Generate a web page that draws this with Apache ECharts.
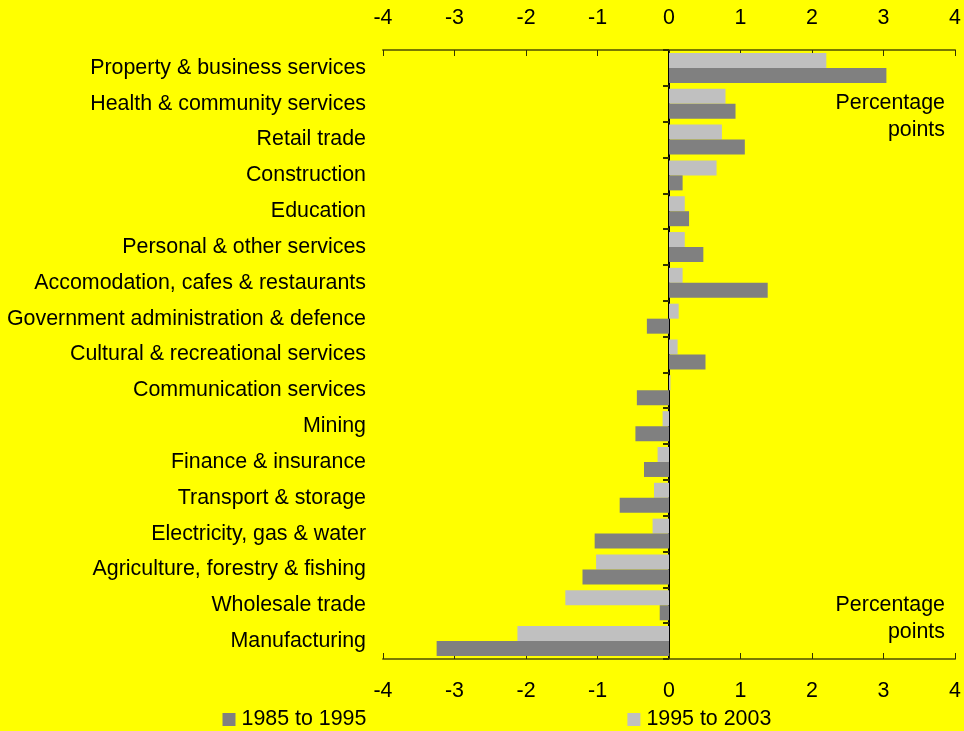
<!DOCTYPE html>
<html>
<head>
<meta charset="utf-8">
<script src="https://cdn.jsdelivr.net/npm/echarts@6/dist/echarts.min.js"></script>
<style>
html,body{margin:0;padding:0;background:#ffff00;}
#chart{width:964px;height:731px;}
</style>
</head>
<body>
<div id="chart"></div>
<script>
const categories = [
  "Property & business services",
  "Health & community services",
  "Retail trade",
  "Construction",
  "Education",
  "Personal & other services",
  "Accomodation, cafes & restaurants",
  "Government administration & defence",
  "Cultural & recreational services",
  "Communication services",
  "Mining",
  "Finance & insurance",
  "Transport & storage",
  "Electricity, gas & water",
  "Agriculture, forestry & fishing",
  "Wholesale trade",
  "Manufacturing"
];
const series1985to1995 = [3.04, 0.93, 1.06, 0.19, 0.28, 0.48, 1.38, -0.31, 0.51, -0.45, -0.47, -0.35, -0.69, -1.04, -1.21, -0.13, -3.25];
const series1995to2003 = [2.2, 0.79, 0.74, 0.665, 0.22, 0.22, 0.19, 0.135, 0.12, 0.02, -0.09, -0.16, -0.21, -0.23, -1.02, -1.45, -2.12];
const seriesNames = ["1985 to 1995", "1995 to 2003"];
const axisMin = -4, axisMax = 4, axisStep = 1;
const unitNote = "Percentage\npoints";

const FONT = "'Liberation Sans', Arial, sans-serif";
const FS = 21.4;
const chart = echarts.init(document.getElementById('chart'));

const xAxisCommon = {
  type: 'value', min: axisMin, max: axisMax, interval: axisStep,
  splitLine: {show: false},
  axisLine: {show: true, onZero: false, lineStyle: {color: '#7a7a00', width: 2}},
  axisTick: {show: true, inside: true, length: 6, lineStyle: {color: '#333300', width: 1}},
  axisLabel: {color: '#000', fontSize: FS, fontFamily: FONT}
};

chart.setOption({
  backgroundColor: '#ffff00',
  animation: false,
  grid: {left: 383, right: 8, top: 50, bottom: 72, containLabel: false},
  legend: {
    data: seriesNames,
    left: 222.5, top: 709, padding: 0,
    itemWidth: 13, itemHeight: 13, itemGap: 261,
    icon: 'rect',
    textStyle: {color: '#000', fontSize: FS, fontFamily: FONT, padding: [0,0,0,1]}
  },
  xAxis: [
    Object.assign({}, xAxisCommon, {position: 'top', axisLabel: Object.assign({}, xAxisCommon.axisLabel, {margin: 21})}),
    Object.assign({}, xAxisCommon, {position: 'bottom', axisLabel: Object.assign({}, xAxisCommon.axisLabel, {margin: 22})})
  ],
  yAxis: [
    {
      type: 'category', data: categories, inverse: true, position: 'left',
      axisLine: {show: false}, axisTick: {show: false},
      axisLabel: {color: '#000', fontSize: FS, fontFamily: FONT, margin: 17}
    },
    {
      type: 'category', data: categories, inverse: true, position: 'left',
      axisLine: {show: true, onZero: true, lineStyle: {color: '#000', width: 2}},
      axisTick: {show: true, inside: false, length: 6, lineStyle: {color: '#333300', width: 2}},
      axisLabel: {show: false}
    }
  ],
  series: [
    {
      name: seriesNames[1], type: 'bar', data: series1995to2003,
      xAxisIndex: 0, yAxisIndex: 0,
      barWidth: 15, barGap: '0%',
      itemStyle: {color: '#c0c0c0'}
    },
    {
      name: seriesNames[0], type: 'bar', data: series1985to1995,
      xAxisIndex: 0, yAxisIndex: 0,
      barWidth: 15, barGap: '0%',
      itemStyle: {color: '#808080'}
    }
  ],
  graphic: [
    {type: 'text', x: 945, y: 90, style: {text: unitNote, fill: '#000', font: FS + 'px ' + FONT, align: 'right', verticalAlign: 'top', lineHeight: 27}},
    {type: 'text', x: 945, y: 592, style: {text: unitNote, fill: '#000', font: FS + 'px ' + FONT, align: 'right', verticalAlign: 'top', lineHeight: 27}}
  ]
});
</script>
</body>
</html>
